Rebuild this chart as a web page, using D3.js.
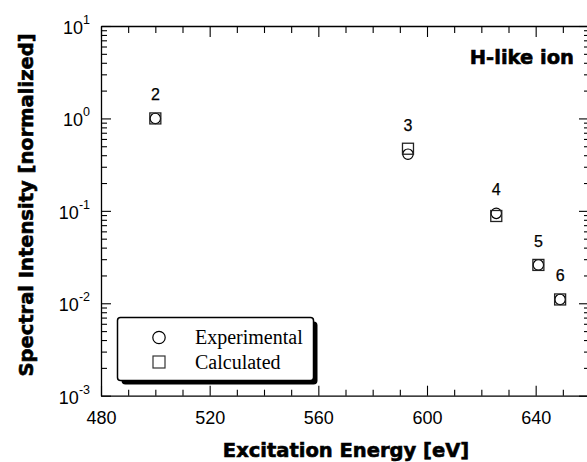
<!DOCTYPE html>
<html>
<head>
<meta charset="utf-8">
<script src="https://cdn.jsdelivr.net/npm/d3@7"></script>
<style>
  html, body { margin: 0; padding: 0; background: #fff; }
  svg { display: block; }
</style>
</head>
<body>
<script>
// ---- data ----
const energies = [500, 593, 625.5, 641, 649];
const experimental = [1.0, 0.41, 0.094, 0.026, 0.011];
const calculated = [1.0, 0.47, 0.088, 0.026, 0.011];
const levelLabels = ["2", "3", "4", "5", "6"];
const seriesNames = ["Experimental", "Calculated"];
const xMajorTicks = [480, 520, 560, 600, 640];
const xMinorTicks = [490, 500, 510, 530, 540, 550, 570, 580, 590, 610, 620, 630, 650];
const yMajorExponents = [-3, -2, -1, 0, 1];
const panelLabel = "H-like ion";
const xTitle = "Excitation Energy [eV]";
const yTitle = "Spectral Intensity [normalized]";

// ---- layout ----
const W = 587, H = 462;
const L = 101, R = 590, T = 26, B = 395.7;

const svg = d3.select("body").append("svg").attr("width", W).attr("height", H);

const x = d3.scaleLinear().domain([480, 660]).range([L, R]);
const y = d3.scaleLog().domain([1e-3, 1e1]).range([B, T]);

const yMajor = yMajorExponents.map(e => Math.pow(10, e));
const yMinor = y.ticks().filter(v => !yMajor.some(m => Math.abs(m - v) / v < 1e-9));

const tickFont = "'Liberation Sans', Arial, Helvetica, sans-serif";
const boldFont = "'DejaVu Sans', Verdana, sans-serif";

function styleAxis(g) {
  g.selectAll("path.domain").attr("stroke", "#000").attr("stroke-width", 1.3);
  g.selectAll(".tick line").attr("stroke", "#000").attr("stroke-width", 1.1);
}

// bottom axis major with labels
const gB = svg.append("g").attr("transform", `translate(0,${B})`)
  .call(d3.axisBottom(x).tickValues(xMajorTicks).tickSizeInner(-10).tickSizeOuter(0)
        .tickPadding(15.5).tickFormat(d3.format("d")));
gB.selectAll("text").attr("font-family", tickFont).attr("font-size", 18).attr("fill", "#000");
styleAxis(gB);
const gBm = svg.append("g").attr("transform", `translate(0,${B})`)
  .call(d3.axisBottom(x).tickValues(xMinorTicks).tickSizeInner(-6).tickSizeOuter(0).tickFormat(""));
gBm.select("path.domain").remove();
styleAxis(gBm);

// top axis
const gT = svg.append("g").attr("transform", `translate(0,${T})`)
  .call(d3.axisTop(x).tickValues(xMajorTicks).tickSizeInner(-11).tickSizeOuter(0).tickFormat(""));
styleAxis(gT);
const gTm = svg.append("g").attr("transform", `translate(0,${T})`)
  .call(d3.axisTop(x).tickValues(xMinorTicks).tickSizeInner(-7).tickSizeOuter(0).tickFormat(""));
gTm.select("path.domain").remove();
styleAxis(gTm);

// left axis
const gL = svg.append("g").attr("transform", `translate(${L},0)`)
  .call(d3.axisLeft(y).tickValues(yMajor).tickSizeInner(-10).tickSizeOuter(0)
        .tickPadding(11).tickFormat(""));
styleAxis(gL);
gL.selectAll(".tick text")
  .attr("font-family", tickFont).attr("font-size", 18).attr("fill", "#000")
  .attr("dy", "0.42em")
  .each(function (d) {
    const t = d3.select(this);
    t.text("10");
    t.append("tspan").attr("dy", -10).attr("font-size", 12.5)
      .text(String(Math.round(Math.log10(d))));
  });
const gLm = svg.append("g").attr("transform", `translate(${L},0)`)
  .call(d3.axisLeft(y).tickValues(yMinor).tickSizeInner(-6).tickSizeOuter(0).tickFormat(""));
gLm.select("path.domain").remove();
styleAxis(gLm);

// right axis (ticks inward)
const gR = svg.append("g").attr("transform", `translate(${R},0)`)
  .call(d3.axisRight(y).tickValues(yMajor).tickSizeInner(-11).tickSizeOuter(0).tickFormat(""));
styleAxis(gR);
const gRm = svg.append("g").attr("transform", `translate(${R},0)`)
  .call(d3.axisRight(y).tickValues(yMinor).tickSizeInner(-6).tickSizeOuter(0).tickFormat(""));
gRm.select("path.domain").remove();
styleAxis(gRm);

// ---- data markers ----
const pts = energies.map((e, i) => ({ e, exp: experimental[i], calc: calculated[i], lab: levelLabels[i] }));
const sq = 11;
svg.append("g").selectAll("circle").data(pts).join("circle")
  .attr("cx", d => x(d.e)).attr("cy", d => y(d.exp)).attr("r", 5.2)
  .attr("fill", "#fff").attr("stroke", "#000").attr("stroke-width", 1.2);
svg.append("g").selectAll("rect").data(pts).join("rect")
  .attr("x", d => x(d.e) - sq / 2).attr("y", d => y(d.calc) - sq / 2)
  .attr("width", sq).attr("height", sq)
  .attr("fill", "none").attr("stroke", "#222").attr("stroke-width", 1.3);

svg.append("g").selectAll("text").data(pts).join("text")
  .attr("x", d => x(d.e)).attr("y", d => y(Math.max(d.exp, d.calc)) - 18)
  .attr("text-anchor", "middle")
  .attr("font-family", tickFont).attr("font-size", 16).attr("fill", "#000")
  .attr("stroke", "#000").attr("stroke-width", 0.25)
  .text(d => d.lab);

// ---- panel label ----
svg.append("text").attr("x", 574).attr("y", 64).attr("text-anchor", "end")
  .attr("font-family", boldFont).attr("font-weight", "bold").attr("font-size", 19.5)
  .attr("stroke", "#000").attr("stroke-width", 0.6)
  .text(panelLabel);

// ---- axis titles ----
svg.append("text").attr("x", 346).attr("y", 456.5).attr("text-anchor", "middle")
  .attr("font-family", boldFont).attr("font-weight", "bold").attr("font-size", 19.5)
  .attr("stroke", "#000").attr("stroke-width", 0.6)
  .text(xTitle);
svg.append("text").attr("transform", "translate(33,205) rotate(-90)").attr("text-anchor", "middle")
  .attr("font-family", boldFont).attr("font-weight", "bold").attr("font-size", 19.5)
  .attr("stroke", "#000").attr("stroke-width", 0.6)
  .text(yTitle);

// ---- legend ----
const lg = svg.append("g");
const lx = 117.5, ly = 317.5, lw = 196, lh = 63;
lg.append("rect").attr("x", lx + 4).attr("y", ly + 4).attr("width", lw).attr("height", lh)
  .attr("rx", 4).attr("fill", "#000");
lg.append("rect").attr("x", lx).attr("y", ly).attr("width", lw).attr("height", lh)
  .attr("rx", 3).attr("fill", "#fff").attr("stroke", "#000").attr("stroke-width", 1.5);
const legendRows = seriesNames.map((n, i) => ({ name: n, i }));
lg.selectAll("g.row").data(legendRows).join("g").attr("class", "row")
  .attr("transform", d => `translate(0,${ly + 20 + d.i * 24.5})`)
  .each(function (d) {
    const g = d3.select(this);
    if (d.i === 0) {
      g.append("circle").attr("cx", 159).attr("cy", 0).attr("r", 6.2)
        .attr("fill", "#fff").attr("stroke", "#000").attr("stroke-width", 1.2);
    } else {
      g.append("rect").attr("x", 153).attr("y", -6).attr("width", 12).attr("height", 12)
        .attr("fill", "#fff").attr("stroke", "#333").attr("stroke-width", 1.2);
    }
    g.append("text").attr("x", 195).attr("y", 6.5)
      .attr("font-family", "'Liberation Serif', 'Times New Roman', serif").attr("font-size", 20)
      .attr("fill", "#000").text(d.name);
  });
</script>
</body>
</html>
